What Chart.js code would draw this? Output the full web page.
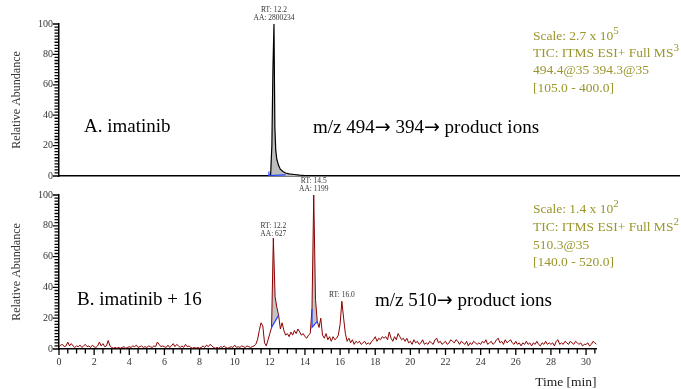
<!DOCTYPE html>
<html>
<head>
<meta charset="utf-8">
<script src="https://cdn.jsdelivr.net/npm/chart.js@4.4.0/dist/chart.umd.min.js"></script>
<style>
body{margin:0;background:#fff;}
#wrap{position:relative;width:681px;height:389px;overflow:hidden;}
#topChart{position:absolute;left:0;top:0;}
#bottomChart{position:absolute;left:0;top:160px;}
</style>
</head>
<body>
<div id="wrap">
<canvas id="topChart" width="681" height="190"></canvas>
<canvas id="bottomChart" width="681" height="229"></canvas>
</div>
<script>
// panel A: imatinib, m/z 494 -> 394 -> product ions
var timesA = [0, 11.9, 11.95, 12.05, 12.12, 12.18, 12.24, 12.29, 12.34, 12.4, 12.5, 12.6, 12.75, 12.9, 13.1, 13.4, 13.7, 14.0, 14.3, 35.3];
var abundA = [0, 0, 0.2, 1, 20, 70, 100, 32, 17, 11, 7, 4.5, 3, 2, 1.4, 1, 0.6, 0.3, 0, 0];
var baseTimesA = [11.95, 11.95, 12.9];
var baseLevelsA = [3, 0.3, 0.8];
var fillWindowA = [11.95, 14.0];
var peakLabelsA = [{rt: 12.2, area: '2800234'}];

// panel B: imatinib + 16, m/z 510 -> product ions (one value per 0.1 min, 0.0 - 30.6)
var scanStepB = 0.1;
var abundB = [
  1.5, 2.5, 3, 1.5, 2, 4.5, 2, 3.5, 2, 1,
  2, 1.5, 2.5, 1, 2, 3, 1.5, 2, 1, 2.5,
  1.5, 1, 2, 4.5, 2, 3.5, 1.5, 2, 5.5, 2,
  1, 0.5, 1, 0.5, 1, 0.5, 1, 1.5, 0.5, 1,
  1.5, 1, 2, 1.5, 2.5, 1, 1.5, 2, 1, 1.5,
  1, 2, 1.5, 1, 2, 1.5, 4.5, 3, 1.5, 2,
  1.5, 1, 2.5, 1, 2, 3.5, 1.5, 3, 2, 1,
  2, 1, 3, 1.5, 2, 1, 0.5, 1, 0.5, 1,
  0.5, 1, 2, 1, 2.5, 1.5, 3, 2, 1, 0.5,
  1, 0.5, 1.5, 1, 2, 1, 0.5, 1, 1.5, 1,
  2.5, 1, 1.5, 1, 2, 1.5, 1, 2, 1.5, 1,
  1.5, 2, 3, 6, 12, 17, 15, 4, 2, 6,
  10, 14, 72, 34, 27, 22, 13, 17, 12, 9,
  10, 8, 11, 9, 12, 10, 13, 11, 9, 10,
  8, 7, 9, 10, 26, 100, 32, 18, 14, 20,
  9, 7, 10, 6, 8, 5, 8, 6, 7, 9,
  16, 31, 20, 10, 5, 7, 4, 6, 3, 5,
  4, 5, 3, 4, 5, 3, 4, 3, 5, 6,
  8, 5, 7, 6, 8, 7, 8, 6, 11, 7,
  5, 8, 6, 10, 8, 6, 7, 5, 7, 4,
  5, 3, 6, 4, 5, 3, 4, 6, 3, 4,
  3, 5, 4, 3, 6, 7, 4, 5, 3, 4,
  5, 3, 4, 6, 5, 4, 6, 5, 3, 5,
  4, 3, 5, 2, 4, 3, 5, 4, 3, 4,
  3, 5, 4, 6, 3, 4, 5, 3, 4, 6,
  7, 4, 5, 3, 6, 4, 5, 6, 4, 3,
  5, 3, 4, 2, 4, 3, 5, 3, 4, 2,
  4, 3, 5, 3, 2, 4, 3, 5, 3, 4,
  3, 4, 2, 5, 6, 3, 4, 3, 5, 4,
  3, 5, 4, 3, 5, 4, 3, 4, 2, 3,
  3, 4, 2, 3, 5, 4, 3
];
var baseTimesB1 = [12.1, 12.5];
var baseLevelsB1 = [14, 22];
var baseTimesB2 = [14.4, 14.4, 14.7];
var baseLevelsB2 = [26, 14, 18];
var peakLabelsB = [{rt: 12.2, area: '627', dy: 2}, {rt: 14.5, area: '1199'}, {rt: 16.0, area: null}];

var timesB = abundB.map(function(v, i){ return Math.round(i * scanStepB * 10) / 10; });

var serif = "'Liberation Serif', 'Times New Roman', serif";
var arrowFont = "'DejaVu Sans', sans-serif";
var olive = '#9a962c';

function pts(xs, ys){
  return xs.map(function(x, i){ return {x: x, y: ys[i]}; });
}
function windowPts(xs, ys, from, to){
  var out = [];
  for (var i = 0; i < xs.length; i++) {
    if (xs[i] >= from - 1e-9 && xs[i] <= to + 1e-9) out.push({x: xs[i], y: ys[i]});
  }
  return out;
}
// closed area between the trace and an integration baseline
function peakShape(bx, by){
  var top = windowPts(timesB, abundB, bx[0], bx[bx.length - 1]);
  return top.concat(pts(bx, by).reverse());
}

// tick marks on every scale tick, longer where the tick has a label
function tickComb(chart, axis){
  var s = chart.scales[axis], ctx = chart.ctx, a = chart.chartArea;
  if (!s.options.ticks.display) return;
  ctx.save();
  ctx.strokeStyle = '#000';
  ctx.lineWidth = 1.3;
  ctx.beginPath();
  s.ticks.forEach(function(t){
    var len = t.label ? 6 : 4.5;
    var p = s.getPixelForValue(t.value);
    if (axis === 'y') { ctx.moveTo(a.left - len, p); ctx.lineTo(a.left, p); }
    else { ctx.moveTo(p, a.bottom); ctx.lineTo(p, a.bottom + len); }
  });
  ctx.stroke();
  ctx.restore();
}

function makeNotes(texts, peaks, xs, ys){
  return {
    id: 'notes',
    afterDraw: function(chart){
      tickComb(chart, 'x');
      tickComb(chart, 'y');
      var ctx = chart.ctx, sx = chart.scales.x, sy = chart.scales.y;
      ctx.save();
      ctx.textBaseline = 'middle';
      ctx.textAlign = 'left';
      texts.forEach(function(n){
        ctx.fillStyle = n.color || '#000';
        // arrows are drawn with a font that has a full width arrow glyph
        var x = n.x;
        n.text.split(/(\u2192)/).forEach(function(part){
          if (!part) return;
          ctx.font = n.size + 'px ' + (part === '\u2192' ? arrowFont : serif);
          ctx.fillText(part, x, n.y);
          x += ctx.measureText(part).width;
        });
        if (n.sup) {
          ctx.font = Math.round(n.size * 0.8) + 'px ' + serif;
          ctx.fillText(n.sup, x, n.y - n.size * 0.35);
        }
      });
      peaks.forEach(function(p){
        var best = -1;
        for (var i = 0; i < xs.length; i++) {
          if (Math.abs(xs[i] - p.rt) <= 0.15 && (best < 0 || ys[i] > ys[best])) best = i;
        }
        var px = sx.getPixelForValue(xs[best]), py = sy.getPixelForValue(ys[best]);
        var lines = ['RT: ' + p.rt.toFixed(1)];
        if (p.area) lines.push('AA: ' + p.area);
        ctx.font = '7.5px ' + serif;
        ctx.fillStyle = '#333';
        ctx.textAlign = 'center';
        for (var k = 0; k < lines.length; k++) {
          ctx.fillText(lines[k], px, py - 6 - (lines.length - 1 - k) * 8 + (p.dy || 0));
        }
        ctx.textAlign = 'left';
      });
      ctx.restore();
    }
  };
}

function yAxis(){
  return {
    min: 0, max: 100,
    afterFit: function(s){ s.width = 59; },
    border: {color: '#000', width: 1.5},
    grid: {display: false, drawTicks: false},
    ticks: {
      stepSize: 2, maxTicksLimit: 1000, autoSkip: false, padding: 6, color: '#333',
      font: {family: serif, size: 10},
      callback: function(v){ return v % 20 === 0 ? String(v) : ''; }
    },
    title: {display: true, text: 'Relative Abundance', color: '#333', font: {family: serif, size: 12}, padding: {top: 10, bottom: 0}}
  };
}

var line = function(data, color, width){
  return {data: data, borderColor: color, borderWidth: width, pointRadius: 0, tension: 0, fill: false};
};

new Chart(document.getElementById('topChart'), {
  type: 'line',
  data: {
    datasets: [
      line(pts(baseTimesA, baseLevelsA), '#1f3fff', 1.2),
      line(pts(timesA, abundA), '#000', 1.2),
      {data: windowPts(timesA, abundA, fillWindowA[0], fillWindowA[1]), borderWidth: 0, pointRadius: 0,
       fill: 'origin', backgroundColor: '#bdbdbd'}
    ]
  },
  options: {
    responsive: false, animation: false,
    layout: {padding: {top: 24, right: 2, bottom: 12, left: 0}},
    plugins: {legend: {display: false}, tooltip: {enabled: false}},
    scales: {
      x: {
        type: 'linear', min: 0, max: 35.3,
        afterFit: function(s){ s.height = 2; },
        border: {color: '#000', width: 1.5},
        grid: {display: false, drawTicks: false},
        ticks: {display: false}
      },
      y: yAxis()
    }
  },
  plugins: [makeNotes([
    {text: 'A. imatinib', x: 84, y: 127, size: 19},
    {text: 'm/z 494\u2192 394\u2192 product ions', x: 313, y: 128, size: 19},
    {text: 'Scale: 2.7 x 10', sup: '5', x: 533, y: 36, size: 13.5, color: olive},
    {text: 'TIC: ITMS ESI+ Full MS', sup: '3', x: 533, y: 53, size: 13.5, color: olive},
    {text: '494.4@35 394.3@35', x: 533, y: 70.5, size: 13.5, color: olive},
    {text: '[105.0 - 400.0]', x: 533, y: 88, size: 13.5, color: olive}
  ], peakLabelsA, timesA, abundA)]
});

new Chart(document.getElementById('bottomChart'), {
  type: 'line',
  data: {
    datasets: [
      line(pts(baseTimesB1, baseLevelsB1), '#1f3fff', 1.2),
      line(pts(baseTimesB2, baseLevelsB2), '#1f3fff', 1.2),
      line(pts(timesB, abundB), '#8b0000', 1),
      {data: peakShape(baseTimesB1, baseLevelsB1), borderWidth: 0, pointRadius: 0, fill: 'shape', backgroundColor: '#c4c4c4'},
      {data: peakShape(baseTimesB2, baseLevelsB2), borderWidth: 0, pointRadius: 0, fill: 'shape', backgroundColor: '#c4c4c4'}
    ]
  },
  options: {
    responsive: false, animation: false,
    layout: {padding: {top: 35, right: 84.4, bottom: 0, left: 0}},
    plugins: {legend: {display: false}, tooltip: {enabled: false}},
    scales: {
      x: {
        type: 'linear', min: 0, max: 30.6,
        afterFit: function(s){ s.height = 40; },
        border: {color: '#000', width: 1.5},
        grid: {display: false, drawTicks: false},
        ticks: {
          stepSize: 0.5, maxTicksLimit: 1000, autoSkip: false, includeBounds: false, maxRotation: 0, padding: 7, color: '#333',
          font: {family: serif, size: 10},
          callback: function(v){ return v % 2 === 0 ? String(v) : ''; }
        },
        title: {display: true, text: 'Time [min]', align: 'end', color: '#222', font: {family: serif, size: 13.5, lineHeight: 1}, padding: {top: 0, bottom: 0}}
      },
      y: yAxis()
    }
  },
  plugins: [makeNotes([
    {text: 'B. imatinib + 16', x: 77, y: 140.5, size: 19},
    {text: 'm/z 510\u2192 product ions', x: 375, y: 141, size: 19},
    {text: 'Scale: 1.4 x 10', sup: '2', x: 533, y: 49, size: 13.5, color: olive},
    {text: 'TIC: ITMS ESI+ Full MS', sup: '2', x: 533, y: 67, size: 13.5, color: olive},
    {text: '510.3@35', x: 533, y: 85, size: 13.5, color: olive},
    {text: '[140.0 - 520.0]', x: 533, y: 102.5, size: 13.5, color: olive}
  ], peakLabelsB, timesB, abundB)]
});
</script>
</body>
</html>
